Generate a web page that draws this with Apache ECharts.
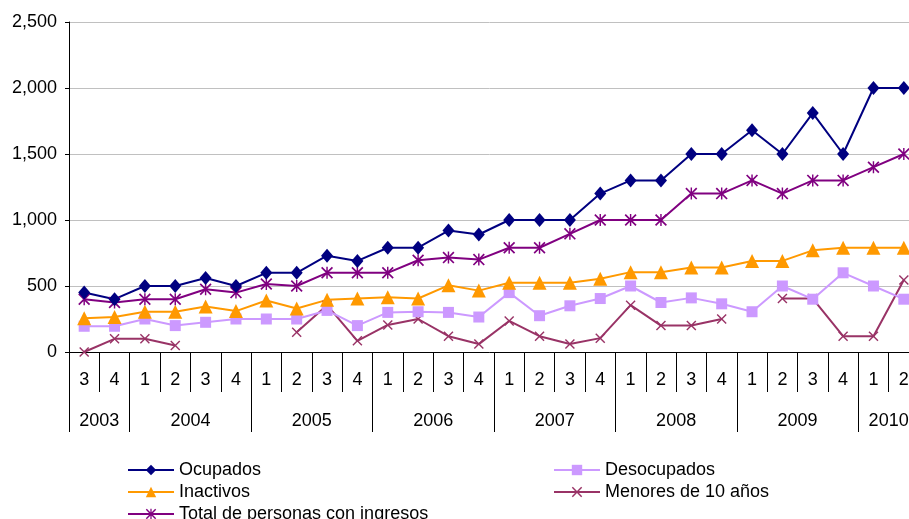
<!DOCTYPE html>
<html>
<head>
<meta charset="utf-8">
<script src="https://cdn.jsdelivr.net/npm/echarts@6/dist/echarts.min.js"></script>
<style>
html,body{margin:0;padding:0;background:#fff;}
#chart{width:909px;height:519px;}
</style>
</head>
<body>
<div id="chart"></div>
<script>
const quarters = ['3','4','1','2','3','4','1','2','3','4','1','2','3','4','1','2','3','4','1','2','3','4','1','2','3','4','1','2'];
const years = ['2003','2004','2005','2006','2007','2008','2009','2010'];
const quartersPerYear = [2,4,4,4,4,4,4,2];
const yTicks = [0, 500, 1000, 1500, 2000, 2500];

const ocupados    = [450,400,500,500,560,500,600,600,730,690,790,790,920,890,1000,1000,1000,1200,1300,1300,1500,1500,1680,1500,1810,1500,2000,2000];
const desocupados = [195,195,250,200,225,250,250,250,315,200,300,305,300,265,450,275,350,405,500,375,410,365,305,500,400,600,500,400];
const inactivos   = [255,265,305,305,345,310,390,330,395,405,415,405,505,465,525,525,525,555,605,605,640,640,690,690,770,790,790,790];
const menores     = [0,100,100,50,null,null,null,150,355,85,205,250,120,60,235,120,60,105,355,200,200,250,null,405,405,120,120,545];
const total       = [400,375,400,400,475,450,515,500,600,600,600,695,715,700,790,790,895,1000,1000,1000,1200,1200,1300,1200,1300,1300,1400,1500];

// build half-quarter positions for year row
const yearAxisData = [];
const yearBoundaries = new Set();
(function(){
  const n = quarters.length * 2 + 1;
  for (let i = 0; i < n; i++) yearAxisData.push('');
  let pos = 0;
  yearBoundaries.add(0);
  quartersPerYear.forEach((q, k) => {
    yearAxisData[pos * 2 + q] = years[k];
    pos += q;
    yearBoundaries.add(pos * 2);
  });
})();

const FONT = 'Liberation Sans, Arial, sans-serif';
const FS = 18;
const xPath = 'path://M0,1L1,0L5,4L9,0L10,1L6,5L10,9L9,10L5,6L1,10L0,9L4,5Z';
const starPath = 'path://M0,1L1,0L5,4L9,0L10,1L6,5L10,9L9,10L5,6L1,10L0,9L4,5Z M4.4,0L5.6,0L5.6,10L4.4,10Z';

function mk(name, data, color, symbol, size) {
  return {
    name: name, type: 'line', data: data,
    symbol: symbol, symbolSize: size, showAllSymbol: true,
    connectNulls: false,
    lineStyle: { color: color, width: 2 },
    itemStyle: { color: color },
    emphasis: { disabled: true },
    animation: false
  };
}

function leg(name, left, top) {
  return {
    data: [name], orient: 'horizontal', left: left, top: top,
    itemWidth: 46, itemHeight: 13, itemGap: 0, padding: 0,
    textStyle: { fontFamily: FONT, fontSize: FS, color: '#000' },
    selectedMode: false
  };
}

const chart = echarts.init(document.getElementById('chart'));
chart.setOption({
  animation: false,
  backgroundColor: '#fff',
  textStyle: { fontFamily: FONT },
  grid: { left: 69, width: 850, top: 22, bottom: 167, containLabel: false, outerBoundsMode: 'none' },
  legend: [
    leg('Ocupados', 127, 461),
    leg('Inactivos', 127, 483),
    leg('Total de personas con ingresos', 127, 505),
    leg('Desocupados', 553, 461),
    leg('Menores de 10 años', 553, 483)
  ],
  xAxis: [
    {
      type: 'category', data: quarters, position: 'bottom',
      axisLine: { show: true, lineStyle: { color: '#000', width: 1 } },
      axisTick: { show: true, interval: 0, length: 40, lineStyle: { color: '#000', width: 1 } },
      axisLabel: { interval: 0, margin: 19, fontSize: FS, color: '#000', fontFamily: FONT },
      splitLine: { show: false }
    },
    {
      type: 'category', data: yearAxisData, position: 'bottom', boundaryGap: false,
      axisLine: { show: false },
      axisTick: { show: true, length: 80, interval: function (i) { return yearBoundaries.has(i); }, lineStyle: { color: '#000', width: 1 } },
      axisLabel: { interval: function (i, v) { return v !== ''; }, margin: 60, fontSize: FS, color: '#000', fontFamily: FONT },
      splitLine: { show: false }
    }
  ],
  yAxis: {
    type: 'value', min: yTicks[0], max: yTicks[yTicks.length - 1], interval: 500,
    axisLine: { show: true, lineStyle: { color: '#000', width: 1 } },
    axisTick: { show: true, length: 4, lineStyle: { color: '#000' } },
    axisLabel: { margin: 12, fontSize: FS, color: '#000', fontFamily: FONT,
      formatter: function (v) { return v.toLocaleString('en-US'); } },
    splitLine: { show: true, lineStyle: { color: '#C0C0C0', width: 1 } }
  },
  series: [
    mk('Menores de 10 años', menores, '#993366', xPath, 10),
    mk('Desocupados', desocupados, '#CC99FF', 'rect', 11),
    mk('Inactivos', inactivos, '#FF9900', 'triangle', 14),
    mk('Total de personas con ingresos', total, '#800080', starPath, 12),
    mk('Ocupados', ocupados, '#000080', 'diamond', [12, 14])
  ]
});
</script>
</body>
</html>
